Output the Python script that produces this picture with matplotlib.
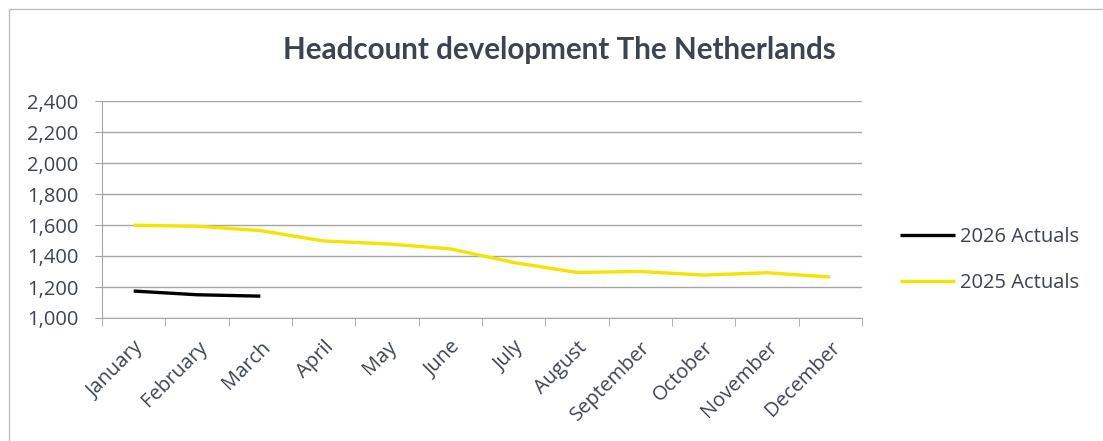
import matplotlib.pyplot as plt
from matplotlib.lines import Line2D
import numpy as np

plt.rcParams['font.family'] = ['Open Sans', 'DejaVu Sans']

months = ['January', 'February', 'March', 'April', 'May', 'June', 'July',
          'August', 'September', 'October', 'November', 'December']
actuals_2025 = [1598, 1592, 1564, 1497, 1478, 1446, 1358, 1294, 1300, 1277, 1292, 1264]
actuals_2026 = [1174, 1150, 1141]
y_ticks = [1000, 1200, 1400, 1600, 1800, 2000, 2200, 2400]

text_col = '#3d4450'
grid_col = '#a6a6a6'

fig = plt.figure(figsize=(11.03, 4.41), dpi=100)
# chart frame: only the left and top edges show in the screenshot
fig.lines.append(Line2D([8.5 / 1103, 8.5 / 1103, 1], [0, 1 - 8.5 / 441, 1 - 8.5 / 441],
                        transform=fig.transFigure, color='#bfbfbf', lw=1))

ax = fig.add_axes([102 / 1103, 1 - 318 / 441, 760 / 1103, 217 / 441])
x = np.arange(len(months))
ax.plot(x[:len(actuals_2026)], actuals_2026, color='black', lw=2.4,
        solid_capstyle='butt', label='2026 Actuals')
ax.plot(x, actuals_2025, color='#f5e400', lw=2.4,
        solid_capstyle='butt', label='2025 Actuals')

ax.set_xlim(-0.5, len(months) - 0.5)
ax.set_ylim(1000, 2400)
ax.set_yticks(y_ticks)
ax.set_yticklabels([f'{v:,}' for v in y_ticks], fontsize=14.5, color=text_col)
ax.grid(axis='y', color=grid_col, lw=1)
ax.set_axisbelow(True)

ax.set_xticks(x)
ax.set_xticklabels(months, rotation=45, ha='right', rotation_mode='anchor',
                   fontsize=14.5, color=text_col)
ax.set_xticks(np.arange(-0.5, len(months)), minor=True)
ax.tick_params(axis='x', which='major', length=0, pad=14)
ax.tick_params(axis='x', which='minor', length=6, color=grid_col)
ax.tick_params(axis='y', length=5, color=grid_col, pad=12)

for side in ['top', 'right']:
    ax.spines[side].set_visible(False)
for side in ['left', 'bottom']:
    ax.spines[side].set_color(grid_col)

fig.text(559 / 1103, 1 - 50 / 441, 'Headcount development The Netherlands',
         ha='center', va='center', fontsize=21.3, fontweight='bold',
         color=text_col, family=['Lato', 'DejaVu Sans'])

fig.legend(loc='center left', bbox_to_anchor=(882 / 1103, 1 - 260 / 441),
           frameon=False, fontsize=14.5, handlelength=2.7, handletextpad=0.25,
           labelspacing=1.3, labelcolor=text_col)

fig.savefig('out.png', dpi=100)
